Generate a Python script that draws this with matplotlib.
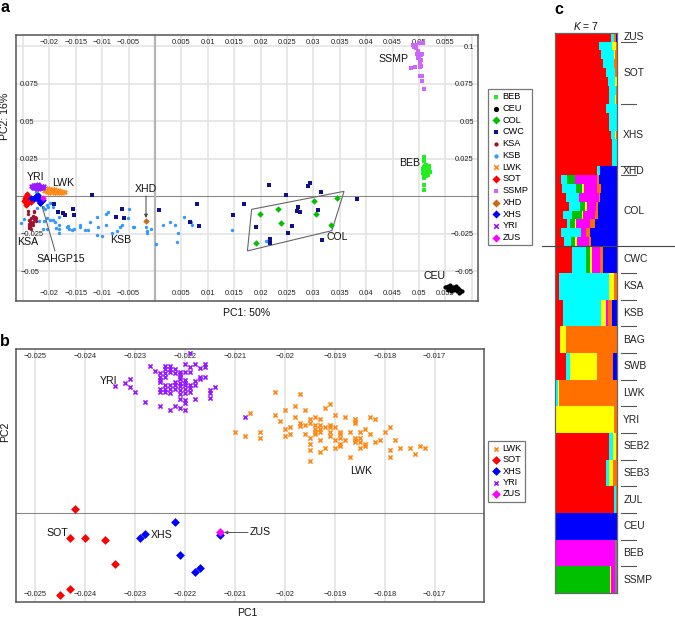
import numpy as np
import matplotlib
matplotlib.use("Agg")
import matplotlib.pyplot as plt
from matplotlib.lines import Line2D
from matplotlib.transforms import blended_transform_factory as btf

plt.rcParams['font.family'] = ['Liberation Sans', 'DejaVu Sans']
plt.rcParams['mathtext.fontset'] = 'custom'
plt.rcParams['mathtext.it'] = 'Liberation Sans:italic'
plt.rcParams['mathtext.rm'] = 'Liberation Sans'
W, H = 675, 619

# ---- panel a data: PC1 and PC2 in thousandths ----
KSB_X = [-25.4,-24.9,-22.5,-22.3,-21.3,-20.5,-21.1,-21.9,-21.3,-20.4,-19.8,-19.4,-18.9,-18.2,-18.1,-18.1,-18.8,-20.5,-19.9,-20.2,-19.6,-19.3,-20.8,-18.1,
         -16.6,-16.4,-16.2,-15.8,-15.3,-14.2,-14.3,-13.2,-12.6,-12.4,-11.0,-10.8,-11.0,-10.1,-9.3,-9.3,-9.0,-8.1,-7.2,-6.6,-6.3,-4.9,-5.1,-4.1,-3.9,
         -1.8,-0.8,-1.6,-1.6,0.2,1.5,2.8,3.7,4.4,4.2,5.4,6.8,7.0,14.6,21.0,21.3]
KSB_Y = [-18,-15.3,2.9,-8,-6.9,-14.7,-16.2,-16.7,-22,-22,-15.8,-15.6,-17.3,-18.9,-21.6,-24.2,-21.1,-5.8,-4.7,-6.9,-4.2,-6.9,-8.7,-13.6,
         -20.2,-19.8,-22,-22.4,-22,-19.1,-20.7,-22.4,-22.7,-17.3,-13.6,-20.2,-25.6,-26.4,-19.3,-11.6,-10.4,-24.7,-23.3,-20.7,-19.3,-8.7,-14.7,-20.2,-20.7,
         -20.7,-21.8,-23.3,-24.7,-32,-19.1,-17.1,-18.9,-24.7,-30.4,-14,-17.1,-19.1,-22.4,-30,-29.8]
CWC_X = [-11.9,-19.2,-18.3,-17.4,-17.0,-15.6,-15.3,-7.4,-6.3,-5.8,0.7,6.7,8.0,8.3,14.7,
         21.5,28.9,29.4,31.4,24.9,16.8,38.3,27.0,26.8,27.5,30.8,25.9,19.1,25.1,21.8,21.8,31.7]
CWC_Y = [0.9,-4.9,-10.2,-10.9,-12.2,-8.4,-12.7,-13.8,-8.4,-14.2,-9.3,-16.9,-4.9,-20,-12.7,
         7.3,6.7,8.7,3.1,0.9,-4.9,-2,-7.3,-9.6,-10.7,-9.3,-20,-20.4,-24.4,-28.7,-30.9,-29.3]
COL_X = [34.5,30.2,23.2,19.9,30.4,23.8,33.3,19.1]
COL_Y = [-1.1,-2.9,-8.7,-11.6,-11.6,-17.8,-19.1,-30.9]
BEB_X = [50.9,51.0,51.0,51.0,51.0,50.7,50.8,50.9,51.0,51.1,51.2,51.3,51.4,51.5,51.6,51.7,51.8,51.9,52.0,51.3,51.5,51.1,50.8,51.9]
BEB_Y = [26.2,23.8,12,7.6,4,16.5,18,15,19.5,14,20.5,13.5,21,16,18.5,14.5,20,17,16.2,16.8,17.6,17.2,15.8,18.2]
CEU_X = [54.9,55.2,55.4,55.6,55.8,56.0,56.2,56.4,56.6,56.8,57.0,57.2,57.4,57.6,57.8,58.1,55.5,56.1,56.7,57.3,57.7,55.9,56.5]
CEU_Y = [-60.2,-60.8,-59.8,-61.5,-59.2,-60.5,-62.2,-60.4,-62.8,-61,-60,-63,-61.4,-64.2,-62.6,-63.4,-62.2,-63,-60.8,-62,-63.8,-59.6,-61.6]
SSMP_X = [48.4,49.3,50.2,50.6,50.6,51.0,50.4,50.2,50.0,50.6,48.9,49.5,49.9,49.4,50.3,49.1,50.0,50.7,49.7,50.1,49.8,50.2,50.4]
SSMP_Y = [85.3,86.4,80.2,80.2,76.7,71.8,87,88.8,93,95,101,101,97,99,91,99.5,102,102,95,90,92,86,94]
KSA_X = [-24.0,-24.0,-23.0,-22.9,-23.8,-23.6,-23.4,-23.2,-23.0,-22.8,-22.6,-23.9,-23.7,-23.5,-23.3,-23.1,-23.6,-23.9,-23.4,-23.8,-22.5,-23.2]
KSA_Y = [-9.6,-12,-9.6,-10.5,-18.5,-16.5,-14.5,-13,-15,-13.8,-16.2,-20,-18,-19.2,-17.6,-17,-20.4,-21.3,-21.5,-15.8,-14.5,-19.4]
LWK_AX = [-21.0,-20.6,-20.2,-19.8,-19.4,-19.0,-18.6,-18.2,-17.8,-17.4,-17.0,-20.4,-20.0,-19.6,-19.2,-18.8,-18.4,-18.0,-17.6,-17.2,-19.4,-18.6]
LWK_AY = [3.2,4.2,5.3,5.0,4.6,4.8,3.8,4.2,3.4,2.8,2.6,2.6,2.4,3.0,2.2,2.4,2.6,2.4,2.2,2.8,3.4,3.0]
SOT_AX = [-24.2,-24.3,-24.0,-23.6,-23.4,-24.3,-24.5,-24.6,-24.4,-24.1,-23.8,-24.9,-24.7]
SOT_AY = [1.5,-1.5,-1.5,-2,-3.5,-5,-5.5,-2.8,0.2,-3.4,-0.4,-3.2,-1]
YRI_AX = [-23.5,-23.3,-23.1,-22.9,-22.7,-22.5,-22.3,-22.1,-21.9,-21.7,-21.5,-21.3,-21.1,-23.2,-22.8,-22.4,-22.0,-21.6,-21.2,-23.0,-22.2]
YRI_AY = [6.8,6.2,7.2,5.6,7.4,6,7.6,6.4,7.8,5.8,7,6,6.8,5.2,5.4,5,5,5.2,5.6,7.6,8]
XHS_AX = [-22.2,-22.8,-22.9,-21.3,-22.1,-21.7,-21.8,-23.4,-22.5,-21.9,-21.5]
XHS_AY = [1.0,-0.5,-1.5,-2.5,-2.2,-4.4,-4.7,-1.2,0.4,-1.0,-3.0]
XHD_X = [-1.8]
XHD_Y = [-16.7]
ZUS_AX = [-21.3]
ZUS_AY = [-0.9]

XTICKS_A = [-25,-20,-15,-10,-5,5,10,15,20,25,30,35,40,45,50,55,60]
XTICK_LABELS_A = ['','−0.02','−0.015','−0.01','−0.005','0.005','0.01','0.015','0.02','0.025','0.03','0.035','0.04','0.045','0.05','0.055','']
YTICKS_A = [-50,-25,25,50,75,100]
YTICK_LABELS_A = ['−0.05','−0.025','0.025','0.05','0.075','0.1']
COL_BOX_X = [35.8,18.3,17.5,33.5]
COL_BOX_Y = [3.3,-8.7,-36.4,-22.9]

# ---- panel b data: PC1 column -> PC2 values (PC2 in 1e-5 units) ----
YRI_B = {-.0234:[382],-.0232:[390],-.0231:[402,377],-.0230:[364],-.0228:[334],-.0227:[440],-.0226:[427],
         -.0225:[421,407,399,394,371,364,321],-.0224:[440,431,421,409,384,371,364],
         -.0223:[440,431,424,384,371,359,309],-.0222:[431,421,394,384,371,321],
         -.0221:[424,416,409,401,391,381,369,357,341,314],-.0220:[447,424,399,391,384,371,359,339,331,309],
         -.0219:[479,439,424,384,374,364],-.0218:[447,397,384,341],-.0217:[434,409,401],
         -.0216:[447,437,409],-.0215:[369,361,346],-.0214:[377],-.0208:[289]}
LWK_B = {-.0210:[244],-.0208:[231],-.0207:[301],-.0205:[244,225],-.0202:[364,295],-.0201:[277],-.0200:[308,251,231],
         -.0199:[257,238],-.0198:[321,288],-.0197:[358,269,262],-.0196:[308,264,238],-.0195:[283,269,226,206,189,156],
         -.0194:[288,264,252,244,237],-.0193:[282,264,252,244,219,182],-.0192:[314,257,195],-.0191:[327,264,257,244,231],
         -.0190:[295,257,219,195],-.0189:[244,237,226,206,201],-.0188:[289,219],-.0187:[244,169],
         -.0186:[283,277,269,226,219,212],-.0185:[244,226,212,195],-.0184:[251,206,201],-.0183:[289,238],
         -.0182:[283,212],-.0181:[219],-.0180:[244],-.0179:[257,189,169],-.0178:[219],-.0177:[195],
         -.0175:[195],-.0174:[176],-.0173:[201],-.0172:[195]}
SOT_BX = [-.0242,-.0243,-.0240,-.0236,-.0234,-.0243,-.0245]
SOT_BY = [12,-76,-76,-82,-152,-227,-246]
XHS_BX = [-.0222,-.0228,-.0229,-.0213,-.0221,-.0217,-.0218]
XHS_BY = [-26,-64,-76,-65,-127,-164,-178]
ZUS_BX = [-.0213]
ZUS_BY = [-57]
XTICKS_B = [-.025,-.024,-.023,-.022,-.021,-.020,-.019,-.018,-.017]
XTICK_LABELS_B = ['−0.025','−0.024','−0.023','−0.022','−0.021','−0.02','−0.019','−0.018','−0.017']

# ---- panel c data: ancestry shares per sample, top to bottom ----
ANCESTRY_COLORS = ['#ff0000','#00ffff','#00c000','#ffff00','#ff00ff','#ff7000','#0000ff','#808080']
#            red cyan green yell mag  orange blue grey
ZUS_ROWS = [[169,9,0,0,0,7,2,0]]
SOT_ROWS = [[135,39,0,10,0,3,0,0],[140,39,0,3,0,5,0,0],[147,32,0,0,0,8,0,0],[155,27,0,0,0,5,0,0],
            [160,21,0,6,0,0,0,0],[163,22,0,0,0,2,0,0],[164,17,0,4,0,2,0,0]]
XHS_ROWS = [[154,33,0,0,0,0,0,0],[164,23,0,0,0,0,0,0],[164,23,0,0,0,0,0,0],[169,13,0,3,0,2,0,0],
            [172,15,0,0,0,0,0,0],[172,15,0,0,0,0,0,0],[173,14,0,0,0,0,0,0]]
XHD_ROWS = [[128,9,0,0,0,0,50,0]]
COL_ROWS = [[19,18,25,0,65,8,52,0],[22,42,20,6,39,11,47,0],[34,41,0,0,60,2,50,0],[44,32,16,5,27,8,55,0],
            [26,27,30,2,37,10,55,0],[37,10,15,2,43,15,65,0],[19,61,0,0,15,11,81,0],[28,22,13,4,38,5,77,0]]
CWC_ROW = [53,42,12,5,25,8,42,0]
KSA_ROW = [15,149,0,15,0,8,0,0]
KSB_ROW = [26,115,0,13,6,14,13,0]
BAG_ROW = [17,0,0,17,0,153,0,0]
SWB_ROW = [34,13,0,80,0,49,11,0]
LWK_ROW = [6,4,0,5,0,172,0,0]
YRI_ROW = [4,0,0,176,0,7,0,0]
SEB2_ROW = [163,14,0,8,0,2,0,0]
SEB3_ROW = [154,11,0,11,0,11,0,0]
ZUL_ROW = [179,6,0,0,0,2,0,0]
CEU_ROW = [0,0,0,0,0,0,187,0]
BEB_ROW = [0,0,0,0,183,0,0,4]
SSMP_ROW = [0,0,168,2,11,0,0,6]
GROUPS = ['ZUS','SOT','XHS','XHD','COL','CWC','KSA','KSB','BAG','SWB','LWK','YRI','SEB2','SEB3','ZUL','CEU','BEB','SSMP']
GROUP_ROWS = [ZUS_ROWS,SOT_ROWS,XHS_ROWS,XHD_ROWS,COL_ROWS,[CWC_ROW]*3,[KSA_ROW]*3,[KSB_ROW]*3,[BAG_ROW]*3,[SWB_ROW]*3,
              [LWK_ROW]*3,[YRI_ROW]*3,[SEB2_ROW]*3,[SEB3_ROW]*3,[ZUL_ROW]*3,[CEU_ROW]*3,[BEB_ROW]*3,[SSMP_ROW]*3]

fig = plt.figure(figsize=(W/100, H/100), dpi=100, facecolor='white')

def axpx(l, t, r, b):
    return fig.add_axes([l/W, 1-b/H, (r-l)/W, (b-t)/H])

def P(x, y):
    return (x/W, 1-y/H)

def label(x, y, s, size=7.6, **kw):
    kw.setdefault('ha', 'center')
    kw.setdefault('va', 'center')
    fig.text(x/W, 1-y/H, s, fontsize=size, color='#111111', **kw)

def style(ax):
    for s in ax.spines.values():
        s.set_color('#555555')
        s.set_linewidth(1.1)
    ax.set_axisbelow(True)
    ax.grid(True, color='#e4e4e4', lw=1.2)
    ax.tick_params(axis='x', length=0, pad=-3, labelsize=5.4, labeltop=True, labelbottom=True, labelcolor='#222222')

# ---------- panel a ----------
a = axpx(16, 35, 478, 301)
style(a)
a.set_xlim(-0.02633, 0.06117)
a.set_ylim(-0.0698, 0.1075)
a.set_xticks(np.array(XTICKS_A)/1000)
a.set_xticklabels(XTICK_LABELS_A)
for tk in a.xaxis.get_major_ticks():
    tk.label1.set_va('bottom')
    tk.label2.set_va('top')
a.set_yticks(np.array(YTICKS_A)/1000)
a.set_yticklabels(YTICK_LABELS_A)
a.tick_params(axis='y', length=0, pad=-3, labelsize=5.4, labelleft=True, labelright=True, labelcolor='#222222')
for tk in a.yaxis.get_major_ticks():
    tk.label1.set_ha('left')
    tk.label2.set_ha('right')
a.yaxis.get_major_ticks()[-1].label1.set_visible(False)
a.axhline(0, color='#888888', lw=0.8, zorder=1)
a.axvline(0, color='#b5b5b5', lw=1.6, zorder=1)

def sc(ax, x, y, name, marker, color, s, lw=None, scale=1000.0):
    kw = {'linewidths': lw if lw else 0}
    return ax.scatter(np.array(x)/scale, np.array(y)/scale, marker=marker, s=s, color=color, label=name, zorder=3, **kw)

hBEB = sc(a, BEB_X, BEB_Y, 'BEB', 's', '#22ee22', 6)
hCEU = sc(a, CEU_X, CEU_Y, 'CEU', 'o', '#000000', 9)
hKSB = sc(a, KSB_X, KSB_Y, 'KSB', 'o', '#3399ff', 6)
hCOL = sc(a, COL_X, COL_Y, 'COL', 'D', '#00c000', 11)
hCWC = sc(a, CWC_X, CWC_Y, 'CWC', 's', '#101088', 5.5)
hLWK = sc(a, LWK_AX, LWK_AY, 'LWK', 'x', '#ff8a1a', 7, lw=1.2)
hSOT = sc(a, SOT_AX, SOT_AY, 'SOT', 'D', '#ff0000', 11)
hSSMP = sc(a, SSMP_X, SSMP_Y, 'SSMP', 's', '#cc66ff', 6)
hXHD = sc(a, XHD_X, XHD_Y, 'XHD', 'D', '#cc6a1a', 11)
hXHS = sc(a, XHS_AX, XHS_AY, 'XHS', 'D', '#0000ff', 11)
hYRI = sc(a, YRI_AX, YRI_AY, 'YRI', 'x', '#9a1aff', 7, lw=1.2)
hZUS = sc(a, ZUS_AX, ZUS_AY, 'ZUS', 'D', '#ff00ff', 11)
hKSA = sc(a, KSA_X, KSA_Y, 'KSA', 'o', '#a01030', 6)
a.add_patch(plt.Polygon(np.column_stack([COL_BOX_X, COL_BOX_Y])/1000, closed=True, fill=False, ec='#666666', lw=0.8, zorder=2))

leg_kw = dict(loc='upper left', borderaxespad=0, fontsize=6.6, fancybox=False, edgecolor='#777777', framealpha=1,
              handletextpad=0.25, borderpad=0.35, handlelength=1.0, scatterpoints=1, markerscale=1.25)
la = fig.legend(handles=[hBEB,hCEU,hCOL,hCWC,hKSA,hKSB,hLWK,hSOT,hSSMP,hXHD,hXHS,hYRI,hZUS],
                bbox_to_anchor=P(488, 89), labelspacing=0.3, **leg_kw)
la.get_frame().set_linewidth(0.9)

for x, y, s in [(36,177,'YRI'),(63,183,'LWK'),(146,189,'XHD'),(28,242,'KSA'),(121,240,'KSB'),(61,259,'SAHGP15'),
                (337,237,'COL'),(393,59,'SSMP'),(410,163,'BEB'),(435,276,'CEU')]:
    label(x, y, s)
label(247, 312.5, 'PC1: 50%')
label(5.5, 116, 'PC2: 16%', rotation=90)
a.annotate('', xy=P(146, 218), xytext=P(146, 196), xycoords='figure fraction', textcoords='figure fraction',
           arrowprops=dict(arrowstyle='-|>', color='#444444', lw=0.7, mutation_scale=5, shrinkA=0, shrinkB=0))
a.annotate('', xy=P(42, 206), xytext=P(55, 251), xycoords='figure fraction', textcoords='figure fraction',
           arrowprops=dict(arrowstyle='-', color='#555555', lw=0.7, shrinkA=0, shrinkB=0))

# ---------- panel b ----------
b = axpx(15.5, 348.7, 484, 602)
style(b)
b.set_xlim(-0.02539, -0.016014)
b.set_ylim(-267, 493)
b.set_xticks(XTICKS_B)
b.set_xticklabels(XTICK_LABELS_B)
for tk in b.xaxis.get_major_ticks():
    tk.label1.set_va('bottom')
    tk.label2.set_va('top')
b.set_yticks([])
b.grid(False, axis='y')
b.axhline(0, color='#888888', lw=0.8, zorder=1)

def flat(d):
    xs = [k for k, v in d.items() for _ in v]
    ys = [y for v in d.values() for y in v]
    return xs, ys

lx, ly = flat(LWK_B)
yx, yy = flat(YRI_B)
hb1 = sc(b, lx, ly, 'LWK', 'x', '#ff8a1a', 9, lw=1.2, scale=1.0)
hb2 = sc(b, SOT_BX, SOT_BY, 'SOT', 'D', '#ff0000', 20, scale=1.0)
hb3 = sc(b, XHS_BX, XHS_BY, 'XHS', 'D', '#0000ff', 20, scale=1.0)
hb4 = sc(b, yx, yy, 'YRI', 'x', '#9a1aff', 9, lw=1.2, scale=1.0)
hb5 = sc(b, ZUS_BX, ZUS_BY, 'ZUS', 'D', '#ff00ff', 20, scale=1.0)
leg_kw2 = dict(leg_kw, markerscale=1.0)
lb = fig.legend(handles=[hb1,hb2,hb3,hb4,hb5], bbox_to_anchor=P(488, 441), labelspacing=0.25, **leg_kw2)
lb.get_frame().set_linewidth(0.9)

for x, y, s in [(109,380.5,'YRI'),(57,532.5,'SOT'),(162,534.5,'XHS'),(260,532,'ZUS'),(361,470.5,'LWK')]:
    label(x, y, s)
label(247, 612.5, 'PC1')
label(5.5, 432, 'PC2', rotation=90)
b.annotate('', xy=P(224, 532.5), xytext=P(248, 532.5), xycoords='figure fraction', textcoords='figure fraction',
           arrowprops=dict(arrowstyle='-|>', color='#555555', lw=0.7, mutation_scale=5, shrinkA=0, shrinkB=0))

# ---------- panel c ----------
c = axpx(554.5, 32.7, 616.7, 593)
rows = [r for g in GROUP_ROWS for r in g]
mat = np.array(rows, dtype=float)
n = len(rows)
ypos = np.arange(n) + 0.5
left = np.zeros(n)
for j, col in enumerate(ANCESTRY_COLORS):
    c.barh(ypos, mat[:, j], left=left, height=1.0, color=col, linewidth=0)
    left += mat[:, j]
c.set_xlim(0, 187)
c.set_ylim(n, 0)
c.set_xticks([])
c.set_yticks([])
for s in c.spines.values():
    s.set_color('#666666')
    s.set_linewidth(0.9)
tr = btf(c.transAxes, c.transData)
row0 = 0
for name, g in zip(GROUPS, GROUP_ROWS):
    mid = row0 + len(g)/2
    c.text(1.105, mid, name, transform=tr, fontsize=7.4, va='center', ha='left', color='#222222')
    row0 += len(g)
    if name not in ('COL', 'SSMP'):
        c.plot([1.07, 1.31], [row0, row0], transform=tr, clip_on=False, color='#555555', lw=0.8)
fig.add_artist(Line2D([542/W, 675/W], [1-246.3/H]*2, color='#444444', lw=0.8))
label(586, 25.5, r'$\mathit{K}$ = 7', size=7.4)

for x, y, s in [(5, 7, 'a'), (5, 342, 'b'), (559, 9, 'c')]:
    fig.text(x/W, 1-y/H, s, fontsize=11.5, fontweight='bold', ha='center', va='center', color='black')

fig.savefig('out.png', dpi=100)
